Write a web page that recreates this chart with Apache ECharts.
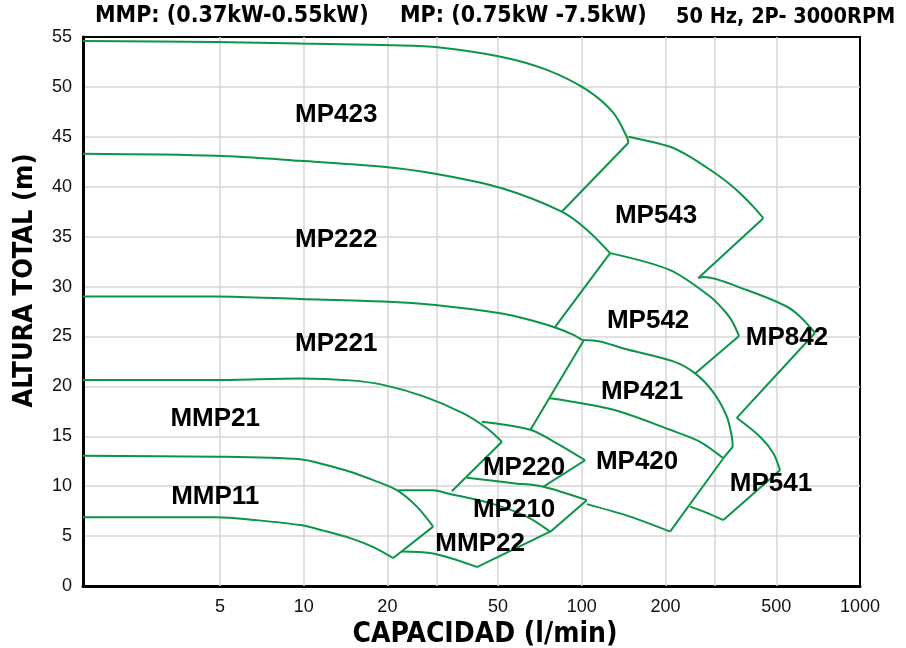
<!DOCTYPE html>
<html><head><meta charset="utf-8">
<script src="https://cdn.jsdelivr.net/npm/echarts@6/dist/echarts.min.js"></script>
<style>html,body{margin:0;padding:0;background:#fff}#c{width:906px;height:648px}</style>
</head><body><div id="c"></div>
<script>
// Axis ticks
const xGridTicks = [5, 10, 20, 30, 50, 100, 200, 300, 500];
const xTickLabels = [5, 10, 20, 50, 100, 200, 500, 1000];
const yTicks = [0, 5, 10, 15, 20, 25, 30, 35, 40, 45, 50, 55];

// Pump curves [capacity l/min, head m]
const mp423Curve = [[1.61,54.6],[4.85,54.5],[9.72,54.35],[19.3,54.2],[29.7,54.0],[51.6,53.0],[74.9,51.7],[104.2,49.7],[129.9,47.4],[145.1,45.0],[147.1,44.4]];
const mp423Edge  = [[147.1,44.4],[84.7,37.5]];
const mp543Curve = [[147.1,45.0],[207.6,44.0],[245,43.0],[289.1,41.7],[331.9,40.5],[370.5,39.35],[413.5,38.0],[449.2,36.85]];
const mp543Edge  = [[449.2,36.85],[262.4,30.85]];
const mp222Curve = [[1.61,43.3],[4.85,43.1],[9.72,42.6],[19.3,42.0],[29.7,41.3],[51.6,39.85],[84.7,37.5],[104.2,35.7],[126.4,33.35]];
const mp222Edge  = [[126.4,33.35],[80.2,25.95]];
const mp542Curve = [[126.4,33.35],[207.6,31.65],[289.1,29.0],[331.9,27.3],[350.5,26.3],[367.4,25.05]];
const mp542Edge  = [[367.4,25.05],[255.4,21.3]];
const mp842Curve = [[262.4,30.85],[273.5,30.95],[391.5,29.65],[545,28.0],[608.5,27.0],[689,25.35]];
const mp842Edge  = [[689,25.35],[360.5,16.85]];
const mp221Curve = [[1.61,29.0],[4.85,29.0],[9.72,28.75],[19.3,28.5],[29.7,28.15],[51.6,27.3],[65.2,26.65],[80.2,25.9],[93.3,25.15],[100,24.65]];
const mp221Edge  = [[101.3,24.55],[65.2,15.6]];
const mp421Curve = [[100,24.65],[116.3,24.5],[141.1,23.8],[213.4,22.5],[255.4,21.3],[297.1,19.4],[331.9,17.0],[345.9,15.0],[348.8,13.95]];
const mp421Edge  = [[348.8,13.95],[322.7,12.8]];
const mp420Curve = [[76.9,18.8],[129.9,17.65],[207.6,15.65],[266.1,14.45],[322.7,12.8]];
const mp420Edge  = [[322.7,12.8],[207.6,5.45]];
const mp420Base  = [[104.2,8.2],[149.1,6.95],[207.6,5.45]];
const mp541Curve = [[360.5,16.85],[437.1,14.95],[488,13.3],[515.8,11.6]];
const mp541Edge  = [[515.8,11.6],[322.7,6.6]];
const mp541Base  = [[245,7.95],[277.3,7.4],[322.7,6.6]];
const mmp21Curve = [[1.61,20.65],[4.85,20.65],[9.72,20.8],[14.7,20.6],[19.3,20.15],[27,19.0],[37.5,17.3],[45.6,15.8],[51.6,14.45]];
const mmp21Edge  = [[51.6,14.45],[34.1,9.5]];
const mp220Curve = [[43.7,16.45],[65.2,15.65],[81.3,14.3],[102.8,12.6]];
const mp220Edge  = [[102.8,12.6],[72.8,9.95]];
const mp210Curve = [[38.6,10.85],[56.8,10.3],[72.8,9.95],[104.2,8.6]];
const mp210Edge  = [[104.2,8.6],[76.9,5.4]];
const mmp11Curve = [[1.61,13.05],[4.85,12.95],[9.72,12.7],[11.76,12.2],[14.71,11.45],[17.8,10.6],[21.64,9.6],[25.53,7.95],[29.22,5.95]];
const mmp11Edge  = [[29.22,5.95],[20.99,2.8]];
const mmp22Curve = [[21.9,9.6],[29.2,9.6],[32.7,9.3],[46.8,8.3],[63.4,6.95],[76.9,5.45]];
const mmp22Edge  = [[76.9,5.45],[41.95,1.9]];
const mmp22Base  = [[22.5,3.45],[28.5,3.3],[35.5,2.6],[41.95,1.9]];
const lowCurve   = [[1.61,6.9],[4.85,6.9],[6.75,6.6],[9.72,6.1],[11.76,5.55],[14.71,4.8],[17.8,3.9],[20.99,2.8]];

// Region labels
const labelNames = ['MP423','MP222','MP221','MMP21','MMP11','MP543','MP542','MP842','MP421','MP220','MP420','MP210','MMP22','MP541'];
const labelX = [13.1,13.1,13.1,4.81,4.81,184.9,173.1,546.6,164.7,62.0,158.0,57.1,43.1,478.9];
const labelY = [47.2,34.65,24.3,16.7,8.95,37.1,26.6,24.9,19.5,11.85,12.4,7.65,4.25,10.25];

const GREEN = '#0c9448';
const GRID_GRAY = '#d6d6d6';
const curves = [mp423Curve, mp543Curve, mp222Curve, mp542Curve, mp842Curve, mp221Curve, mp421Curve, mp420Curve, mp420Base, mp541Curve, mp541Base, mmp21Curve, mp220Curve, mp210Curve, mmp11Curve, mmp22Curve, mmp22Base, lowCurve];
const edges = [mp423Edge, mp543Edge, mp222Edge, mp542Edge, mp842Edge, mp221Edge, mp421Edge, mp420Edge, mp541Edge, mmp21Edge, mp220Edge, mp210Edge, mmp11Edge, mmp22Edge];

const series = [];
// vertical log grid lines
series.push({
  type:'line', data:[], silent:true, z:1,
  markLine:{silent:true, z:1, symbol:['none','none'], label:{show:false}, animation:false,
    lineStyle:{color:GRID_GRAY, width:1.5, type:'solid'},
    data: xGridTicks.map(v => ({xAxis:v}))}
});
curves.forEach(d => series.push({type:'line', z:3, data:d, showSymbol:false, smooth:0.3, lineStyle:{color:GREEN, width:2}, silent:true}));
edges.forEach(d => series.push({type:'line', z:3, data:d, showSymbol:false, smooth:false, lineStyle:{color:GREEN, width:2}, silent:true}));
series.push({
  type:'scatter', symbolSize:0, silent:true, z:6,
  itemStyle:{opacity:1},
  data: labelNames.map((n,i) => ({name:n, value:[labelX[i], labelY[i]]})),
  label:{show:true, position:'inside', formatter:'{b}', color:'#000', opacity:1, textBorderWidth:0, fontFamily:'"Liberation Sans", Arial, sans-serif', fontWeight:'bold', fontSize:26}
});

const fmt = v => String(+(+v).toPrecision(6));
const condensed = '"DejaVu Sans Condensed", "Liberation Sans Narrow", sans-serif';
const titleStyle = {fontFamily:condensed, fontWeight:'bold', fontSize:23, color:'#000'};

const chart = echarts.init(document.getElementById('c'), null, {renderer:'canvas'});
chart.setOption({
  animation:false,
  backgroundColor:'#fff',
  title:[
    {text:'MMP: (0.37kW-0.55kW)', left:95, top:5, textStyle:titleStyle, padding:0},
    {text:'MP: (0.75kW -7.5kW)', left:400, top:5, textStyle:titleStyle, padding:0},
    {text:'50 Hz, 2P- 3000RPM', left:676, top:6, textStyle:Object.assign({}, titleStyle, {fontSize:21.5}), padding:0}
  ],
  grid:{left:83, right:46, top:37, bottom:62, show:true, borderColor:'#000', borderWidth:2, containLabel:false, outerBoundsMode:'none'},
  xAxis:{
    type:'log', logBase:10, min:1.61, max:1000,
    name:'CAPACIDAD (l/min)', nameLocation:'middle', nameGap:32,
    nameTextStyle:{fontFamily:condensed, fontWeight:'bold', fontSize:28, color:'#000', padding:[0,0,0,27]},
    axisLine:{show:true, lineStyle:{color:'#000', width:3}},
    axisTick:{show:false},
    axisLabel:{customValues:xTickLabels, formatter:fmt, color:'#111', fontFamily:'"Liberation Sans", Arial, sans-serif', fontSize:18, margin:12},
    splitLine:{show:false},
    minorSplitLine:{show:false}
  },
  yAxis:{
    type:'value', min:0, max:55, interval:5,
    name:'ALTURA TOTAL (m)', nameLocation:'middle', nameGap:45, nameRotate:90,
    nameTextStyle:{fontFamily:condensed, fontWeight:'bold', fontSize:27, color:'#000', padding:[0,0,0,62]},
    axisLine:{show:true, lineStyle:{color:'#000', width:3}},
    axisTick:{show:false},
    axisLabel:{color:'#111', fontFamily:'"Liberation Sans", Arial, sans-serif', fontSize:18, margin:11},
    splitLine:{show:true, showMinLine:false, showMaxLine:false, lineStyle:{color:GRID_GRAY, width:1.5}}
  },
  series: series
});
</script>
</body></html>
